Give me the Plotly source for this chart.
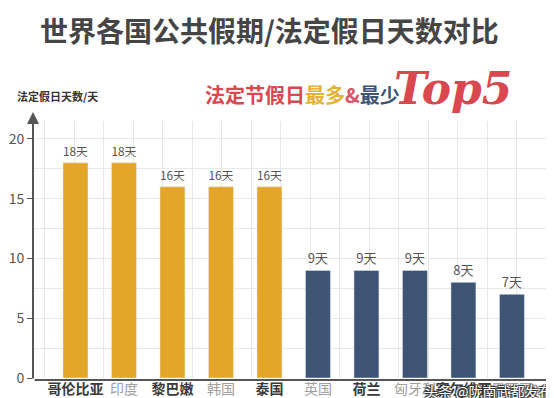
import plotly.graph_objects as go

# ---- data ----
countries_most = ["哥伦比亚", "印度", "黎巴嫩", "韩国", "泰国"]
days_most = [18, 18, 16, 16, 16]
countries_least = ["英国", "荷兰", "匈牙利", "塞尔维亚", "墨西哥"]
days_least = [9, 9, 9, 8, 7]
y_ticks = [0, 5, 10, 15, 20]

title_text = "世界各国公共假期/法定假日天数对比"
y_title = "法定假日天数/天"
watermark = "头条 @陇南武都发布"

FONT = "Noto Sans CJK SC"
ORANGE = "#E3A628"
NAVY = "#3E5473"
RED = "#D9474F"

categories = countries_most + countries_least
ticktext = []
for i, c in enumerate(categories):
    if i % 2 == 0:
        ticktext.append(f"<b><span style='color:#3a3a3a'>{c}</span></b>")
    else:
        ticktext.append(f"<span style='color:#a0a0a0'>{c}</span>")

fig = go.Figure()
# empty trace that only carries the background grid axis
fig.add_trace(go.Scatter(x=[None], y=[None], xaxis="x2", yaxis="y",
                         mode="markers", showlegend=False, hoverinfo="skip"))
fig.add_trace(go.Bar(
    x=countries_most, y=days_most, marker_color=ORANGE,
    text=[f"{v}天" for v in days_most], textposition="outside",
    textfont=dict(family=FONT, size=13, color="#555"), cliponaxis=False,
    showlegend=False, hoverinfo="skip"))
fig.add_trace(go.Bar(
    x=countries_least, y=days_least, marker_color=NAVY,
    text=[f"{v}天" for v in days_least], textposition="outside",
    textfont=dict(family=FONT, size=13, color="#555"), cliponaxis=False,
    showlegend=False, hoverinfo="skip"))

fig.update_layout(
    width=554, height=398,
    margin=dict(l=25, r=4, t=113, b=28, autoexpand=False),
    paper_bgcolor="white", plot_bgcolor="white",
    barmode="overlay", bargap=0.485,
    font=dict(family=FONT, color="#555"),
    xaxis=dict(
        type="category", categoryorder="array", categoryarray=categories,
        range=[-0.876, 9.95], tickmode="array", tickvals=categories,
        ticktext=ticktext, tickfont=dict(family=FONT, size=14), tickangle=0,
        ticklabelstandoff=1, ticklen=0, automargin=False,
        showgrid=False, ticks="", zeroline=False, showline=False,
    ),
    xaxis2=dict(
        overlaying="x", anchor="y", side="bottom", range=[-0.4, 17.4], tick0=0, dtick=1,
        showgrid=True, gridcolor="#e8e8e8", gridwidth=1, automargin=False,
        showticklabels=False, ticks="", zeroline=False, showline=False,
    ),
    yaxis=dict(
        range=[0, 21.5], tickvals=y_ticks, ticks="outside", ticklen=5,
        tickcolor="#555", tickfont=dict(family=FONT, size=14, color="#555"),
        showgrid=True, gridcolor="#e8e8e8", automargin=False,
        minor=dict(dtick=2.5, tick0=0, showgrid=True, gridcolor="#e8e8e8", ticks=""),
        zeroline=False, showline=False,
    ),
)

annotations = [
    # title
    dict(text=f"<b>{title_text}</b>", x=0.451, y=1.355, xref="paper", yref="paper",
         xanchor="center", yanchor="middle", showarrow=False,
         font=dict(family=FONT, size=28, color="#454545")),
    # y axis title
    dict(text=f"<b>{y_title}</b>", x=-0.034, y=1.097, xref="paper", yref="paper",
         xanchor="left", yanchor="middle", showarrow=False,
         font=dict(family=FONT, size=11, color="#333")),
    # subtitle
    dict(text=(f"<b><span style='color:{RED}'>法定节假日</span>"
               f"<span style='color:#E3B238'>最多</span>"
               f"<span style='color:#D9566A'>&amp;</span>"
               f"<span style='color:{NAVY}'>最少</span></b>"),
         x=0.513, y=1.105, xref="paper", yref="paper", xanchor="center", yanchor="middle",
         showarrow=False, font=dict(family=FONT, size=20)),
    # Top5
    dict(text="<b><i>Top5</i></b>", x=0.800, y=1.125, xref="paper", yref="paper",
         xanchor="center", yanchor="middle", showarrow=False,
         font=dict(family="DejaVu Serif", size=44, color=RED)),
    # y axis arrow
    dict(text="", x=0, y=1.035, xref="paper", yref="paper", showarrow=True,
         ax=0, ay=268, axref="pixel", ayref="pixel", arrowhead=2, arrowsize=1.2,
         arrowwidth=2, arrowcolor="#555"),
    # x axis arrow
    dict(text="", x=1.006, y=-0.008, xref="paper", yref="paper", showarrow=True,
         ax=-528, ay=0, axref="pixel", ayref="pixel", arrowhead=2, arrowsize=1.2,
         arrowwidth=2, arrowcolor="#555"),
    # watermark
    dict(text=watermark, x=0.866, y=-0.05, xref="paper", yref="paper",
         xanchor="center", yanchor="middle", showarrow=False,
         font=dict(family=FONT, size=14, color="white",
                   shadow="1px 1px 1px #333, -1px -1px 1px #333, 1px -1px 1px #333, -1px 1px 1px #333")),
]
fig.update_layout(annotations=annotations)

fig.write_html("out.html")
